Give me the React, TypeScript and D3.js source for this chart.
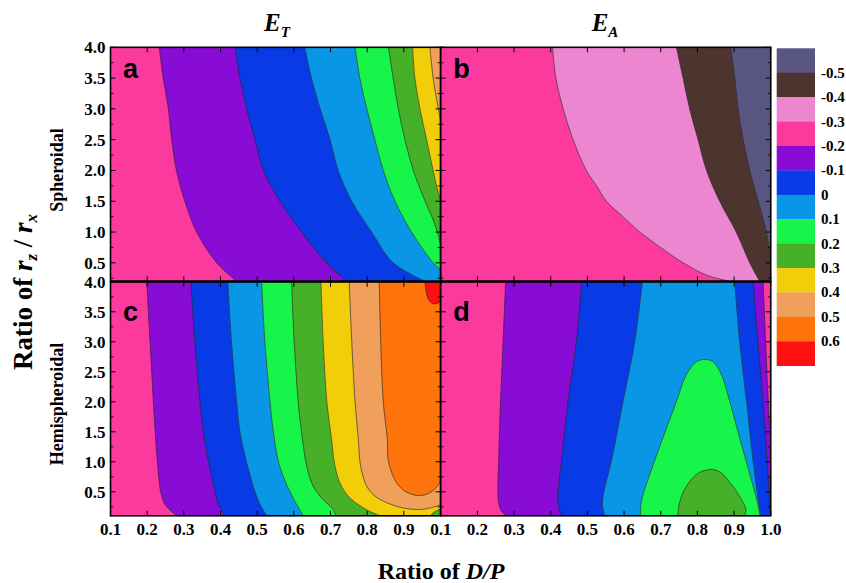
import React from "react";
import * as d3 from "d3";

type Pt = [number, number];

// legend levels (boundaries) and the 13 fill colours, top to bottom
const levelLabels = ["-0.5", "-0.4", "-0.3", "-0.2", "-0.1", "0", "0.1", "0.2", "0.3", "0.4", "0.5", "0.6"];
const levelColors = [
  "#595682", "#4d342e", "#ec86d0", "#fc3a9e", "#890bd6", "#083ae6", "#0a96e6",
  "#18f54a", "#46b028", "#f2ce0a", "#f0a05a", "#ff730c", "#ff1010",
];

const xTicks = [0.1, 0.2, 0.3, 0.4, 0.5, 0.6, 0.7, 0.8, 0.9, 1.0];
const yTicks = [0.5, 1.0, 1.5, 2.0, 2.5, 3.0, 3.5, 4.0];
const yMinor = [0.25, 0.75, 1.25, 1.75, 2.25, 2.75, 3.25, 3.75];

// panel a : E_T spheroidal (contour boundaries)
const aB1: Pt[] = [[0.233, 4.0], [0.244, 3.5], [0.258, 3.0], [0.267, 2.5], [0.28, 2.0], [0.303, 1.5], [0.335, 1.0], [0.39, 0.5], [0.444, 0.2]];
const aB2: Pt[] = [[0.44, 4.0], [0.453, 3.5], [0.471, 3.0], [0.494, 2.5], [0.517, 2.0], [0.562, 1.5], [0.621, 1.0], [0.689, 0.5], [0.744, 0.2]];
const aB3: Pt[] = [[0.63, 4.0], [0.648, 3.5], [0.672, 3.0], [0.699, 2.5], [0.721, 2.0], [0.758, 1.5], [0.812, 1.0], [0.871, 0.5], [0.958, 0.2]];
const aB4: Pt[] = [[0.767, 4.0], [0.78, 3.5], [0.799, 3.0], [0.821, 2.5], [0.844, 2.0], [0.876, 1.5], [0.921, 1.0], [0.98, 0.5], [1.0, 0.39]];
const aB5: Pt[] = [[0.858, 4.0], [0.871, 3.5], [0.885, 3.0], [0.903, 2.5], [0.926, 2.0], [0.958, 1.5], [0.977, 1.24], [0.99, 1.03], [1.0, 0.81]];
const aB6: Pt[] = [[0.924, 4.0], [0.93, 3.5], [0.944, 3.0], [0.962, 2.5], [0.98, 2.0], [0.99, 1.73], [1.0, 1.52]];
const aB7: Pt[] = [[0.971, 4.0], [0.98, 3.5], [0.994, 3.0], [1.0, 2.82]];

// panel b : E_A spheroidal
const bB1: Pt[] = [[0.405, 4.0], [0.414, 3.5], [0.434, 3.0], [0.461, 2.5], [0.497, 2.0], [0.525, 1.75], [0.552, 1.5], [0.597, 1.25], [0.643, 1.0], [0.697, 0.76], [0.761, 0.5], [0.825, 0.3], [0.888, 0.2]];
const bB2: Pt[] = [[0.743, 4.0], [0.761, 3.5], [0.779, 3.0], [0.802, 2.5], [0.825, 2.0], [0.861, 1.5], [0.906, 1.0], [0.943, 0.5], [0.97, 0.2]];
const bB3: Pt[] = [[0.891, 4.0], [0.902, 3.5], [0.911, 3.0], [0.925, 2.5], [0.943, 2.0], [0.966, 1.5], [0.988, 1.0], [1.0, 0.6]];

// panel c : E_T hemispheroidal
const cB1: Pt[] = [[0.199, 4.0], [0.208, 3.0], [0.217, 2.0], [0.228, 1.0], [0.237, 0.5], [0.249, 0.29], [0.28, 0.1]];
const cB2: Pt[] = [[0.319, 4.0], [0.33, 3.0], [0.344, 2.0], [0.353, 1.5], [0.367, 1.0], [0.385, 0.5], [0.394, 0.29], [0.412, 0.1]];
const cB3: Pt[] = [[0.42, 4.0], [0.43, 3.0], [0.444, 2.0], [0.453, 1.5], [0.471, 1.0], [0.494, 0.5], [0.508, 0.29], [0.526, 0.1]];
const cB4: Pt[] = [[0.512, 4.0], [0.521, 3.0], [0.535, 2.0], [0.544, 1.5], [0.558, 1.0], [0.576, 0.68], [0.603, 0.34], [0.626, 0.1]];
const cB5: Pt[] = [[0.594, 4.0], [0.601, 3.0], [0.612, 2.0], [0.621, 1.5], [0.635, 0.93], [0.653, 0.59], [0.68, 0.37], [0.708, 0.2], [0.715, 0.1]];
const cB6: Pt[] = [[0.674, 4.0], [0.68, 3.0], [0.69, 2.0], [0.703, 1.37], [0.712, 0.93], [0.73, 0.59], [0.758, 0.37], [0.799, 0.2], [0.835, 0.1]];
const cB7: Pt[] = [[0.751, 4.0], [0.758, 3.0], [0.767, 2.0], [0.776, 1.37], [0.782, 0.93], [0.799, 0.59], [0.821, 0.43], [0.853, 0.32], [0.899, 0.23], [0.944, 0.205], [0.99, 0.26], [1.0, 0.29]];
const cB8: Pt[] = [[0.833, 4.0], [0.837, 3.0], [0.844, 2.0], [0.855, 1.37], [0.857, 1.04], [0.867, 0.82], [0.88, 0.65], [0.903, 0.51], [0.935, 0.44], [0.962, 0.46], [0.985, 0.55], [1.0, 0.68]];
const cRed: Pt[] = [[0.958, 4.0], [0.962, 3.8], [0.968, 3.7], [0.978, 3.64], [0.99, 3.64], [1.0, 3.67]];
const cCorner: Pt[] = [[0.972, 0.1], [0.985, 0.17], [1.0, 0.21]];

// panel d : E_A hemispheroidal
const dB1: Pt[] = [[0.277, 4.0], [0.27, 3.0], [0.263, 2.0], [0.258, 1.0], [0.256, 0.5], [0.259, 0.29], [0.268, 0.16], [0.285, 0.1]];
const dB2: Pt[] = [[0.484, 4.0], [0.47, 3.0], [0.447, 2.0], [0.429, 1.0], [0.42, 0.5], [0.42, 0.29], [0.429, 0.1]];
const dB3: Pt[] = [[0.65, 4.0], [0.629, 3.0], [0.597, 2.0], [0.565, 1.0], [0.545, 0.5], [0.541, 0.29], [0.547, 0.1]];
const dB4: Pt[] = [[0.902, 4.0], [0.915, 3.0], [0.934, 2.0], [0.952, 1.0], [0.963, 0.5], [0.968, 0.29], [0.973, 0.1]];
const dB5: Pt[] = [[0.952, 4.0], [0.965, 3.0], [0.979, 2.0], [0.99, 1.0], [0.999, 0.1]];
const dB6: Pt[] = [[0.979, 4.0], [0.986, 3.0], [0.993, 2.0], [1.0, 1.3]];
const dGreen: Pt[] = [[0.645, 0.1], [0.647, 0.34], [0.67, 0.79], [0.706, 1.4], [0.743, 2.01], [0.77, 2.456], [0.797, 2.667], [0.82, 2.706], [0.843, 2.667], [0.865, 2.456], [0.888, 2.01], [0.915, 1.4], [0.943, 0.79], [0.965, 0.29], [0.97, 0.1]];
const dDark: Pt[] = [[0.747, 0.1], [0.75, 0.29], [0.765, 0.54], [0.797, 0.79], [0.834, 0.872], [0.861, 0.833], [0.893, 0.622], [0.92, 0.372], [0.932, 0.206], [0.929, 0.1]];

type Region =
  | { kind: "right"; b: Pt[]; c: number }
  | { kind: "band"; l: Pt[]; r: Pt[]; c: number }
  | { kind: "closed"; pts: Pt[]; c: number; edge?: boolean };

const panels = [
  {
    key: "a", col: 0, row: 0, yMin: 0.2, bg: 3,
    regions: [
      { kind: "right", b: aB1, c: 4 }, { kind: "right", b: aB2, c: 5 }, { kind: "right", b: aB3, c: 6 },
      { kind: "right", b: aB4, c: 7 }, { kind: "right", b: aB5, c: 8 }, { kind: "right", b: aB6, c: 9 },
      { kind: "right", b: aB7, c: 10 },
    ] as Region[],
  },
  {
    key: "b", col: 1, row: 0, yMin: 0.2, bg: 3,
    regions: [
      { kind: "right", b: bB1, c: 2 }, { kind: "right", b: bB2, c: 1 }, { kind: "right", b: bB3, c: 0 },
    ] as Region[],
  },
  {
    key: "c", col: 0, row: 1, yMin: 0.1, bg: 3,
    regions: [
      { kind: "right", b: cB1, c: 4 }, { kind: "right", b: cB2, c: 5 }, { kind: "right", b: cB3, c: 6 },
      { kind: "right", b: cB4, c: 7 }, { kind: "right", b: cB5, c: 8 }, { kind: "right", b: cB6, c: 9 },
      { kind: "right", b: cB7, c: 10 }, { kind: "right", b: cB8, c: 11 },
      { kind: "closed", pts: cRed, c: 12, edge: true }, { kind: "closed", pts: cCorner, c: 8, edge: true },
    ] as Region[],
  },
  {
    key: "d", col: 1, row: 1, yMin: 0.1, bg: 3,
    regions: [
      { kind: "band", l: dB1, r: dB6, c: 4 }, { kind: "band", l: dB2, r: dB5, c: 5 },
      { kind: "band", l: dB3, r: dB4, c: 6 },
      { kind: "closed", pts: dGreen, c: 7 }, { kind: "closed", pts: dDark, c: 8 },
    ] as Region[],
  },
];

const colX = [110.5, 440.75];
const rowY = [47.3, 281.8];
const PW = 330;
const PH = 234;
const serif = "'Liberation Serif', 'Times New Roman', serif";
const sans = "'Liberation Sans', Arial, sans-serif";

function Panel({ p }: { p: (typeof panels)[number] }) {
  const x = d3.scaleLinear().domain([0.1, 1.0]).range([0, PW]);
  const y = d3.scaleLinear().domain([p.yMin, 4.0]).range([PH, 0]);
  const line = d3
    .line<Pt>()
    .x((d) => x(d[0]))
    .y((d) => y(d[1]))
    .curve(d3.curveCatmullRom.alpha(0.5));
  const corner = (px: number, py: number) => `L${x(px)},${y(py)}`;

  const fillPath = (r: Region) => {
    if (r.kind === "right") {
      const last = r.b[r.b.length - 1];
      return line(r.b) + corner(1.0, last[1]) + corner(1.0, 4.0) + "Z";
    }
    if (r.kind === "band") {
      const rEnd = r.r[r.r.length - 1];
      const back = line(r.r.slice().reverse())!.replace(/^M/, "L");
      return line(r.l) + (rEnd[1] > p.yMin ? corner(1.0, p.yMin) : "") + back + "Z";
    }
    const first = r.pts[0];
    const last = r.pts[r.pts.length - 1];
    const extra = r.edge ? corner(1.0, first[1]) : "";
    return line(r.pts) + (r.edge && last[0] < 1 ? corner(1.0, last[1]) : "") + extra + "Z";
  };

  const strokes: Pt[][] = [];
  p.regions.forEach((r) => {
    if (r.kind === "right") strokes.push(r.b);
    else if (r.kind === "band") strokes.push(r.l, r.r);
    else strokes.push(r.pts);
  });

  const tx = colX[p.col];
  const ty = rowY[p.row];
  const clipId = `clip-${p.key}`;
  const yMinorVis = yMinor.filter((v) => v > p.yMin);

  return (
    <g transform={`translate(${tx},${ty})`}>
      <defs>
        <clipPath id={clipId}>
          <rect x={0} y={0} width={PW} height={PH} />
        </clipPath>
      </defs>
      <g clipPath={`url(#${clipId})`}>
        <rect x={0} y={0} width={PW} height={PH} fill={levelColors[p.bg]} />
        {p.regions.map((r, i) => (
          <path key={i} d={fillPath(r)} fill={levelColors[r.c]} stroke={levelColors[r.c]} strokeWidth={0.3} />
        ))}
        {strokes.map((s, i) => (
          <path key={`s${i}`} d={line(s)!} fill="none" stroke="#2a2a2a" strokeWidth={0.75} strokeOpacity={0.85} />
        ))}
      </g>
      {/* ticks, inward */}
      {xTicks.map((t) => (
        <g key={`xt${t}`}>
          <line x1={x(t)} x2={x(t)} y1={PH} y2={PH - 5} stroke="#000" strokeWidth={1} />
          <line x1={x(t)} x2={x(t)} y1={0} y2={5} stroke="#000" strokeWidth={1} />
        </g>
      ))}
      {yTicks.map((t) => (
        <g key={`yt${t}`}>
          <line x1={0} x2={5} y1={y(t)} y2={y(t)} stroke="#000" strokeWidth={1} />
          <line x1={PW} x2={PW - 5} y1={y(t)} y2={y(t)} stroke="#000" strokeWidth={1} />
        </g>
      ))}
      {yMinorVis.map((t) => (
        <g key={`ym${t}`}>
          <line x1={0} x2={3} y1={y(t)} y2={y(t)} stroke="#000" strokeWidth={0.8} />
          <line x1={PW} x2={PW - 3} y1={y(t)} y2={y(t)} stroke="#000" strokeWidth={0.8} />
        </g>
      ))}
      <rect x={0} y={0} width={PW} height={PH} fill="none" stroke="#000" strokeWidth={1.6} />
      <text
        x={12.5}
        y={p.row === 0 ? 31 : 39}
        fontFamily={sans}
        fontWeight="bold"
        fontSize={27}
        fill="#000"
      >
        {p.key}
      </text>
      {/* tick labels */}
      {p.col === 0 &&
        yTicks.map((t) => (
          <text key={`yl${t}`} x={-5} y={y(t) + 6} textAnchor="end" fontFamily={serif} fontWeight="bold" fontSize={17}>
            {t.toFixed(1)}
          </text>
        ))}
      {p.row === 1 &&
        xTicks
          .filter((t) => p.col === 1 || t < 0.95)
          .map((t) => (
            <text key={`xl${t}`} x={x(t)} y={PH + 19} textAnchor="middle" fontFamily={serif} fontWeight="bold" fontSize={17}>
              {t.toFixed(1)}
            </text>
          ))}
    </g>
  );
}

export default function App() {
  const swH = (365.7 - 48.3) / levelColors.length;
  const legendY = d3.scaleLinear().domain([0, levelColors.length]).range([48.3, 365.7]);
  return (
    <svg
      width={846}
      height={583}
      style={{ position: "absolute", left: 0, top: 0, background: "#fff" }}
      fontFamily={serif}
    >
      <rect width={846} height={583} fill="#fff" />
      {panels.map((p) => (
        <Panel key={p.key} p={p} />
      ))}
      <line x1={110.5} x2={771} y1={281.5} y2={281.5} stroke="#000" strokeWidth={2} />

      {/* column titles */}
      <text x={277} y={31} textAnchor="middle" fontWeight="bold" fontStyle="italic" fontSize={25}>
        E<tspan dy={6} fontSize={15}>T</tspan>
      </text>
      <text x={605} y={31} textAnchor="middle" fontWeight="bold" fontStyle="italic" fontSize={25}>
        E<tspan dy={6} fontSize={15}>A</tspan>
      </text>

      {/* row labels */}
      <text transform="translate(63,170) rotate(-90)" textAnchor="middle" fontWeight="bold" fontSize={18}>
        Spheroidal
      </text>
      <text transform="translate(63,404) rotate(-90)" textAnchor="middle" fontWeight="bold" fontSize={18}>
        Hemispheroidal
      </text>

      {/* axis titles */}
      <text transform="translate(32,292) rotate(-90)" textAnchor="middle" fontWeight="bold" fontSize={27}>
        Ratio of{" "}
        <tspan fontStyle="italic">r</tspan>
        <tspan fontStyle="italic" fontSize={17} dy={5}>z</tspan>
        <tspan dy={-5}> / </tspan>
        <tspan fontStyle="italic">r</tspan>
        <tspan fontStyle="italic" fontSize={17} dy={5}>x</tspan>
      </text>
      <text x={441} y={579} textAnchor="middle" fontWeight="bold" fontSize={24}>
        Ratio of <tspan fontStyle="italic">D/P</tspan>
      </text>

      {/* legend */}
      {levelColors.map((c, i) => (
        <rect key={c} x={776.7} y={legendY(i)} width={38.3} height={swH + 0.3} fill={c} />
      ))}
      {levelLabels.map((l, i) => (
        <text key={l} x={821} y={legendY(i + 1) + 5} fontWeight="bold" fontSize={15}>
          {l}
        </text>
      ))}
    </svg>
  );
}
